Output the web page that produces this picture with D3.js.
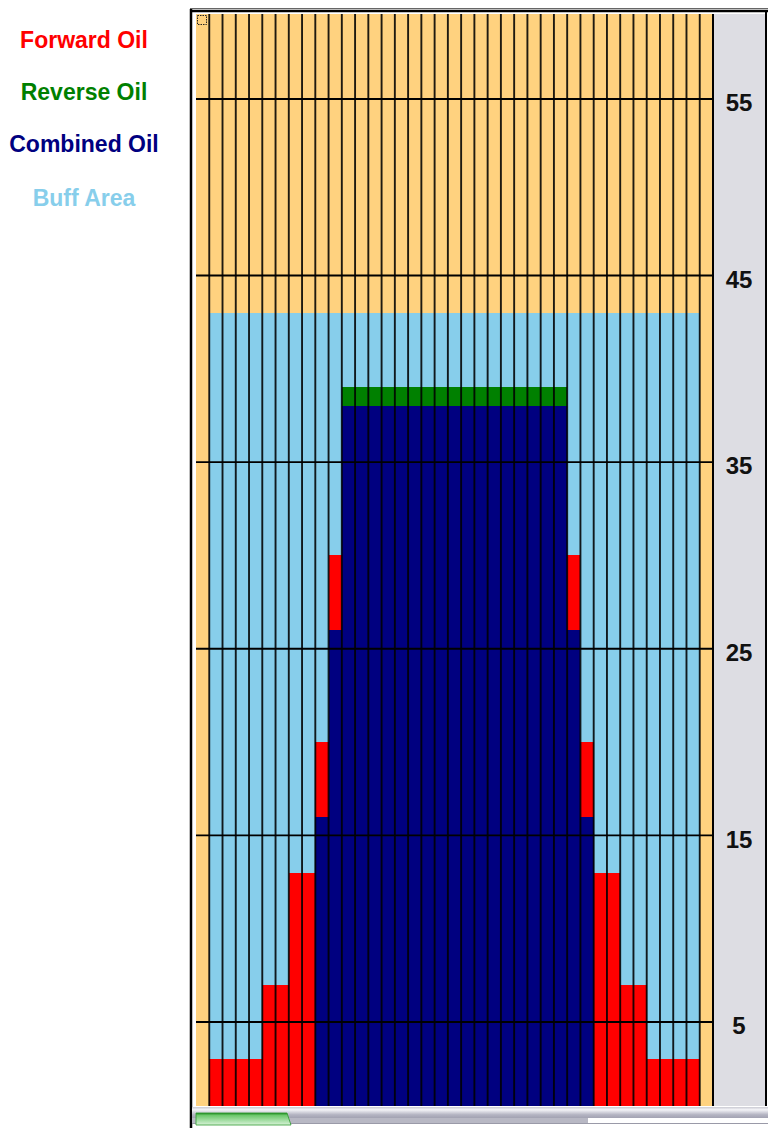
<!DOCTYPE html>
<html>
<head>
<meta charset="utf-8">
<script src="https://cdn.jsdelivr.net/npm/d3@7"></script>
<style>
    body { margin: 0; background: #fff; }
    #chart { position: absolute; left: 0; top: 0; }
</style>
</head>
<body>
<div id="chart"></div>
<script>

// column ids, left to right
var columns = [0, 1, 2, 3, 4, 5, 6, 7, 8, 9, 10, 11, 12, 13, 14, 15, 16, 17, 18, 19,
    20, 21, 22, 23, 24, 25, 26, 27, 28, 29, 30, 31, 32, 33, 34, 35, 36, 37, 38];

// heights per column
var buffArea = [0, 43, 43, 43, 43, 43, 43, 43, 43, 43, 43, 43, 43, 43, 43, 43, 43, 43, 43, 43,
    43, 43, 43, 43, 43, 43, 43, 43, 43, 43, 43, 43, 43, 43, 43, 43, 43, 43, 0];
var forwardOil = [0, 3, 3, 3, 3, 7, 7, 13, 13, 20, 30, 0, 0, 0, 0, 0, 0, 0, 0, 0,
    0, 0, 0, 0, 0, 0, 0, 0, 30, 20, 13, 13, 7, 7, 3, 3, 3, 3, 0];
var reverseOil = [0, 0, 0, 0, 0, 0, 0, 0, 0, 0, 0, 39, 39, 39, 39, 39, 39, 39, 39, 39,
    39, 39, 39, 39, 39, 39, 39, 39, 0, 0, 0, 0, 0, 0, 0, 0, 0, 0, 0];
var combinedOil = [0, 0, 0, 0, 0, 0, 0, 0, 0, 16, 26, 38, 38, 38, 38, 38, 38, 38, 38, 38,
    38, 38, 38, 38, 38, 38, 38, 38, 26, 16, 0, 0, 0, 0, 0, 0, 0, 0, 0];

var yTicks = [5, 15, 25, 35, 45, 55];

var legendNames = ["Forward Oil", "Reverse Oil", "Combined Oil", "Buff Area"];
var legendColors = ["#ff0000", "#008000", "#000080", "#87ceeb"];

var svgWidth = 768;
var svgHeight = 1128;

var plot = { left: 196, right: 713, top: 14, bottom: 1106 };

var svg = d3.select("#chart")
    .append("svg")
    .attr("width", svgWidth)
    .attr("height", svgHeight);

// gradients for the scroll bar bits
var defs = svg.append("defs");
var gBar = defs.append("linearGradient").attr("id", "barGrad")
    .attr("x1", 0).attr("y1", 0).attr("x2", 0).attr("y2", 1);
gBar.append("stop").attr("offset", "0%").attr("stop-color", "#c9c9d2");
gBar.append("stop").attr("offset", "25%").attr("stop-color", "#f4f4f8");
gBar.append("stop").attr("offset", "70%").attr("stop-color", "#b4b4c2");
gBar.append("stop").attr("offset", "100%").attr("stop-color", "#a2a2b2");
var gTab = defs.append("linearGradient").attr("id", "tabGrad")
    .attr("x1", 0).attr("y1", 0).attr("x2", 0).attr("y2", 1);
gTab.append("stop").attr("offset", "0%").attr("stop-color", "#1f8a1f");
gTab.append("stop").attr("offset", "20%").attr("stop-color", "#6cc86c");
gTab.append("stop").attr("offset", "100%").attr("stop-color", "#d8f2d8");

// scales
var x = d3.scaleBand()
    .domain(columns)
    .range([plot.left, plot.right])
    .padding(0);

// the original grid is not evenly spaced near the top
var y = d3.scaleLinear()
    .domain([0.5, 45, 55, 59])
    .range([plot.bottom, 275.5, 99, plot.top]);

// outer frame
svg.append("line")
    .attr("x1", 190).attr("x2", 768).attr("y1", 8.5).attr("y2", 8.5)
    .attr("stroke", "#666").attr("stroke-width", 1);
svg.append("line")
    .attr("x1", 190).attr("x2", 768).attr("y1", 11).attr("y2", 11)
    .attr("stroke", "#000").attr("stroke-width", 2.5);
svg.append("line")
    .attr("x1", 191).attr("x2", 191).attr("y1", 9).attr("y2", svgHeight)
    .attr("stroke", "#000").attr("stroke-width", 2.5);

// axis panel
svg.append("rect")
    .attr("x", plot.right).attr("y", plot.top)
    .attr("width", 765 - plot.right).attr("height", plot.bottom - plot.top)
    .attr("fill", "#dddde3");
svg.append("line")
    .attr("x1", 766).attr("x2", 766).attr("y1", 11).attr("y2", plot.bottom)
    .attr("stroke", "#000").attr("stroke-width", 2);

// background
svg.append("rect")
    .attr("x", plot.left).attr("y", plot.top)
    .attr("width", plot.right - plot.left).attr("height", plot.bottom - plot.top)
    .attr("fill", "#ffd27f");

// bars, drawn back to front
function drawBars(values, color) {
    svg.append("g").selectAll("rect")
        .data(columns.filter(c => values[c] > 0))
        .enter()
        .append("rect")
        .attr("x", c => x(c))
        .attr("y", c => y(values[c]))
        .attr("width", x.bandwidth())
        .attr("height", c => y(0.5) - y(values[c]))
        .attr("fill", color)
        .attr("shape-rendering", "crispEdges");
}
drawBars(buffArea, "#87ceeb");
drawBars(reverseOil, "#008000");
drawBars(forwardOil, "#ff0000");
drawBars(combinedOil, "#000080");

// vertical column lines
svg.append("g").selectAll("line")
    .data(columns.slice(1))
    .enter()
    .append("line")
    .attr("x1", c => x(c)).attr("x2", c => x(c))
    .attr("y1", plot.top).attr("y2", plot.bottom)
    .attr("stroke", "#000").attr("stroke-opacity", 0.88).attr("stroke-width", 1.9);
svg.append("line")
    .attr("x1", plot.right).attr("x2", plot.right)
    .attr("y1", plot.top).attr("y2", plot.bottom)
    .attr("stroke", "#000").attr("stroke-width", 2);

// horizontal grid
svg.append("g").selectAll("line")
    .data(yTicks)
    .enter()
    .append("line")
    .attr("x1", plot.left).attr("x2", plot.right)
    .attr("y1", d => y(d)).attr("y2", d => y(d))
    .attr("stroke", "#000").attr("stroke-width", 1.9);

// right axis labels
var rightAxis = d3.axisRight(y).tickValues(yTicks).tickSize(0).tickPadding(0);
var axisG = svg.append("g")
    .attr("transform", `translate(739, 4)`)
    .call(rightAxis);
axisG.select(".domain").remove();
axisG.selectAll("text")
    .attr("text-anchor", "middle")
    .attr("x", 0)
    .style("font-family", "'Liberation Sans', Arial, sans-serif")
    .style("font-size", "24px")
    .style("font-weight", "bold")
    .attr("fill", "#111");

// little dotted marker in the corner
svg.append("rect")
    .attr("x", 197.5).attr("y", 15.5).attr("width", 9).attr("height", 9)
    .attr("fill", "none").attr("stroke", "#222").attr("stroke-width", 1)
    .attr("stroke-dasharray", "1.5,1");

// scroll bar along the bottom
svg.append("rect")
    .attr("x", 192).attr("y", plot.bottom + 1)
    .attr("width", svgWidth - 192).attr("height", 11)
    .attr("fill", "url(#barGrad)");
svg.append("rect")
    .attr("x", 192).attr("y", 1118)
    .attr("width", 396).attr("height", 5)
    .attr("fill", "#b8b8c4");
svg.append("line")
    .attr("x1", 192).attr("x2", svgWidth).attr("y1", 1123.5).attr("y2", 1123.5)
    .attr("stroke", "#9a9aa8").attr("stroke-width", 1);
svg.append("path")
    .attr("d", "M196,1113 L287,1113 L291,1125 L196,1125 Z")
    .attr("fill", "url(#tabGrad)")
    .attr("stroke", "#2f9a2f").attr("stroke-width", 0.8);

// legend
svg.append("g").selectAll("text")
    .data(legendNames)
    .enter()
    .append("text")
    .attr("x", 84)
    .attr("y", (d, i) => [48, 100, 152, 206][i])
    .attr("text-anchor", "middle")
    .style("font-family", "'Liberation Sans', Arial, sans-serif")
    .style("font-size", "23px")
    .style("font-weight", "bold")
    .attr("fill", (d, i) => legendColors[i])
    .text(d => d);

</script>
</body>
</html>
